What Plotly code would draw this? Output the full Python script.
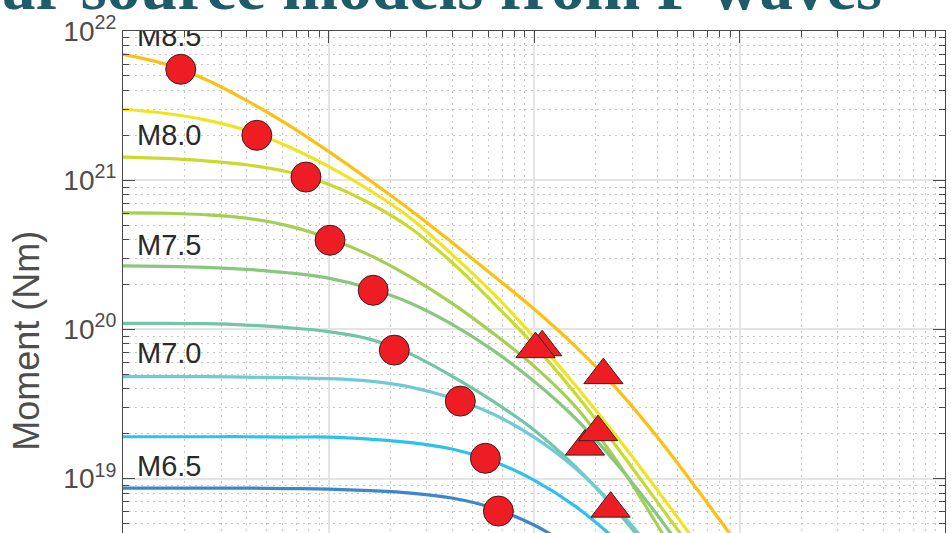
import plotly.graph_objects as go

# frequences (Hz) communes a toutes les courbes
freq = [1e-3, 1.585e-3, 2.512e-3, 3.981e-3, 6.31e-3, 1e-2, 1.585e-2, 2.512e-2,
        3.981e-2, 6.31e-2, 0.1, 0.1585, 0.2512, 0.3981, 0.631, 1.0]

# spectres de moment (Nm), du plus gros au plus petit
m85 = [6.98e21, 6.03e21, 4.75e21, 3.43e21, 2.37e21, 1.56e21, 1.00e21, 6.30e20,
       3.84e20, 2.31e20, 1.37e20, 7.73e19, 4.04e19, 1.90e19, 8.26e18, 3.48e18]
m825 = [2.99e21, 2.81e21, 2.54e21, 2.16e21, 1.69e21, 1.24e21, 8.57e20, 5.57e20,
        3.19e20, 1.75e20, 8.88e19, 4.24e19, 1.93e19, 8.39e18, 3.54e18]
m80 = [1.43e21, 1.40e21, 1.35e21, 1.27e21, 1.14e21, 9.40e20, 7.01e20, 4.77e20,
       2.82e20, 1.52e20, 7.85e19, 3.74e19, 1.65e19, 6.97e18, 2.94e18]
m775 = [6.04e20, 6.01e20, 5.87e20, 5.57e20, 4.96e20, 4.09e20, 3.15e20, 2.24e20,
        1.50e20, 9.45e19, 5.68e19, 3.06e19, 1.33e19, 4.89e18, 1.66e18]
m75 = [2.67e20, 2.65e20, 2.61e20, 2.53e20, 2.40e20, 2.21e20, 1.89e20, 1.50e20,
       1.085e20, 7.27e19, 4.50e19, 2.55e19, 1.27e19, 5.71e18, 2.37e18]
m725 = [1.10e20, 1.10e20, 1.093e20, 1.07e20, 1.028e20, 9.67e19, 8.61e19, 6.83e19,
        4.87e19, 3.31e19, 2.12e19, 1.21e19, 6.16e18, 2.85e18]
m70 = [4.83e19, 4.83e19, 4.83e19, 4.79e19, 4.75e19, 4.68e19, 4.50e19, 4.11e19,
       3.47e19, 2.71e19, 1.90e19, 1.18e19, 6.36e18, 3.03e18]
m675 = [1.91e19, 1.91e19, 1.91e19, 1.91e19, 1.90e19, 1.90e19, 1.84e19, 1.745e19,
        1.58e19, 1.31e19, 9.79e18, 6.55e18, 3.88e18, 2.09e18]
m65 = [8.65e18, 8.65e18, 8.65e18, 8.65e18, 8.59e18, 8.52e18, 8.32e18, 8.01e18,
       7.42e18, 6.36e18, 4.89e18, 3.33e18, 2.03e18]

spectres = [m85, m825, m80, m775, m75, m725, m70, m675, m65]
couleurs = ["#FDC010", "#F0E421", "#C9DA2C", "#A5CE52", "#88C77E",
            "#70C6A6", "#6FCAD8", "#2FC1EE", "#3D86C8"]

# frequences coin (ronds)
coin_f = [1.91e-3, 4.48e-3, 7.77e-3, 1.017e-2, 1.65e-2, 2.09e-2, 4.38e-2, 5.80e-2, 6.71e-2]
coin_m = [5.54e21, 2.00e21, 1.05e21, 3.96e20, 1.83e20, 7.27e19, 3.31e19, 1.37e19, 6.07e18]

# triangles
tri_f = [0.1096, 0.1017, 0.2176, 0.177, 0.2048, 0.236]
tri_m = [7.60e19, 7.38e19, 4.94e19, 1.64e19, 2.05e19, 6.30e18]

# etiquettes de magnitude
labels = ["M8.5", "M8.0", "M7.5", "M7.0", "M6.5"]
label_f = [1.17e-3] * 5
label_m = [8.94e21, 1.93e21, 3.53e20, 6.63e19, 1.16e19]

# graduations de l'axe des moments
y_ticks = [1e19, 1e20, 1e21, 1e22]
y_ticktext = ["10<sup>19</sup>", "10<sup>20</sup>", "10<sup>21</sup>", "10<sup>22</sup>"]

fig = go.Figure()

for m, c in zip(spectres, couleurs):
    fig.add_trace(go.Scatter(x=freq[:len(m)], y=m, mode="lines",
                             line=dict(color=c, width=3.2, shape="spline"),
                             hoverinfo="skip"))

fig.add_trace(go.Scatter(x=coin_f, y=coin_m, mode="markers",
                         marker=dict(symbol="circle", size=30, color="#EE1D24",
                                     line=dict(color="#3b1f1f", width=1))))
fig.add_trace(go.Scatter(x=tri_f, y=tri_m, mode="markers",
                         marker=dict(symbol="triangle-up", size=34, color="#EE1D24",
                                     line=dict(color="#3b1f1f", width=1))))
fig.add_trace(go.Scatter(x=label_f, y=label_m, mode="text", text=labels,
                         textposition="middle right",
                         textfont=dict(family="Liberation Sans", size=29, color="#2a2a2a")))

axe = dict(
    type="log", showline=True, linecolor="#4a4a4a", linewidth=1.2, automargin=False,
    ticks="inside", ticklen=12, tickcolor="#4a4a4a",
    showgrid=True, gridcolor="#e4e4e4", gridwidth=1.5, zeroline=False,
    minor=dict(ticks="inside", ticklen=6, tickcolor="#4a4a4a", dtick="D1",
               showgrid=True, gridcolor="#c8c8c8", griddash="2px,4px", gridwidth=1),
)

fig.update_layout(
    width=951, height=533,
    margin=dict(l=123, r=6, t=31, b=0),
    paper_bgcolor="white", plot_bgcolor="white",
    showlegend=False,
    xaxis=dict(axe, range=[-3, 1], dtick=1, side="top", showticklabels=False),
    yaxis=dict(axe, range=[18.636, 22], mirror="ticks", tickmode="array",
               tickvals=y_ticks, ticktext=y_ticktext,
               tickfont=dict(family="Liberation Sans", size=28, color="#4d4d4d")),
    annotations=[
        dict(text="Moment (Nm)", xref="paper", yref="paper", x=-0.117, y=0.3825,
             xanchor="center", yanchor="middle", textangle=-90, showarrow=False,
             font=dict(family="Liberation Sans", size=36, color="#4d4d4d")),
        dict(text="<b>ar source models from P waves</b>", xref="paper", yref="paper",
             x=-0.1496, y=1.012, xanchor="left", yanchor="bottom", showarrow=False,
             font=dict(family="Liberation Serif", size=67, color="#1E5B6B")),
    ],
)

# pas de marge autour du graphique dans la page
fig.write_html("out.html", config={"displayModeBar": False},
               post_script="document.body.style.margin='0px';")
